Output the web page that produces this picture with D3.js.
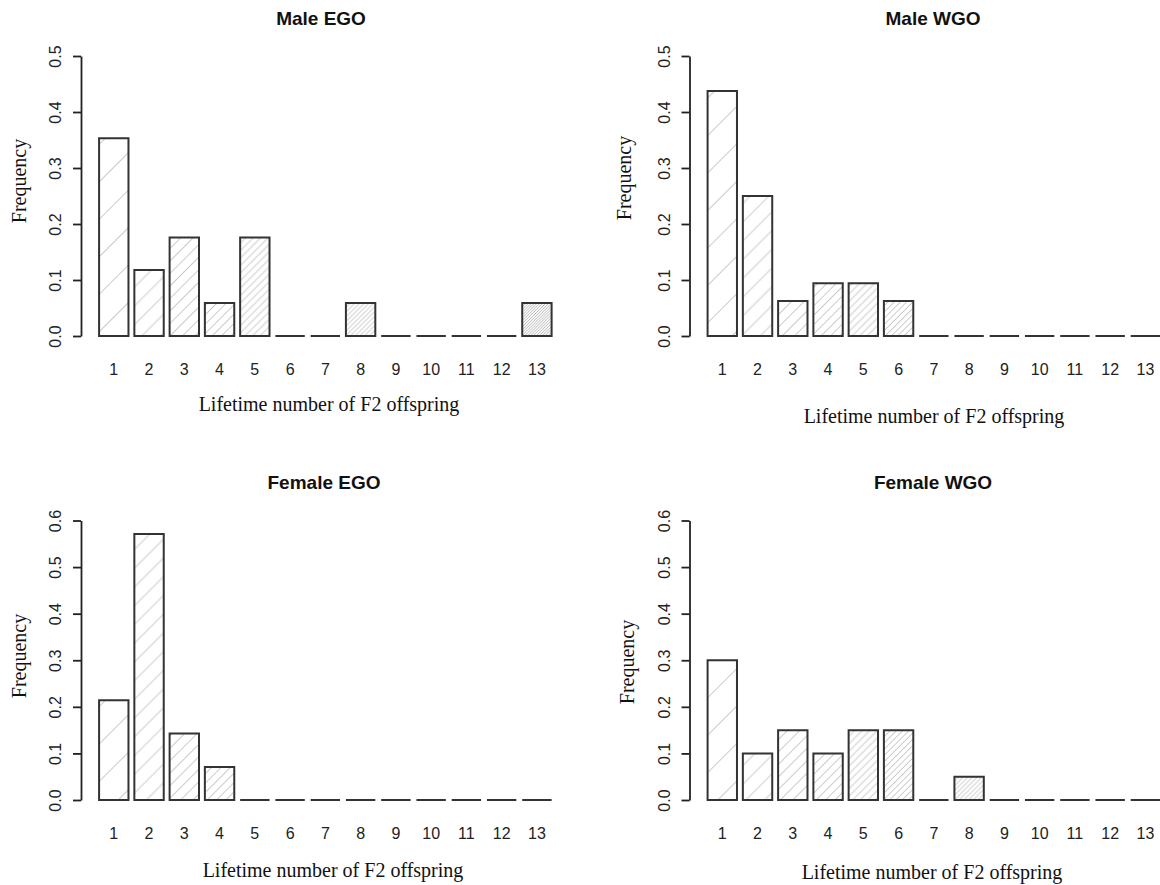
<!DOCTYPE html>
<html>
<head>
<meta charset="utf-8">
<script src="https://cdn.jsdelivr.net/npm/d3@7"></script>
<style>
  html, body { margin: 0; padding: 0; background: #fff; }
  svg { display: block; }
</style>
</head>
<body>
<svg id="chart" width="1160" height="885"></svg>
<script>
// Lifetime number of F2 offspring (bar categories)
const offspring = [1, 2, 3, 4, 5, 6, 7, 8, 9, 10, 11, 12, 13];

// Relative frequencies
const maleEGO   = [0.353, 0.118, 0.176, 0.059, 0.176, 0, 0, 0.059, 0, 0, 0, 0, 0.059];
const maleWGO   = [0.4375, 0.25, 0.0625, 0.094, 0.094, 0.0625, 0, 0, 0, 0, 0, 0, 0];
const femaleEGO = [0.214, 0.571, 0.143, 0.071, 0, 0, 0, 0, 0, 0, 0, 0, 0];
const femaleWGO = [0.30, 0.10, 0.15, 0.10, 0.15, 0.15, 0, 0.05, 0, 0, 0, 0, 0];

const titles = ["Male EGO", "Male WGO", "Female EGO", "Female WGO"];
const yTicksTop = [0, 0.1, 0.2, 0.3, 0.4, 0.5];
const yTicksBottom = [0, 0.1, 0.2, 0.3, 0.4, 0.5, 0.6];

const xLabel = "Lifetime number of F2 offspring";
const yLabel = "Frequency";

const sans = "'Liberation Sans', Arial, sans-serif";
const serif = "'Liberation Serif', 'Times New Roman', serif";

// panel layout (pixel frames only, no data)
const panels = [
  { title: titles[0], values: maleEGO, ticks: yTicksTop,
    left: 81, top: 56, bottom: 336, titleX: 321, titleY: 18,
    tickY: 369, xLabX: 329, xLabY: 405, yLabX: 20, yLabY: 181 },
  { title: titles[1], values: maleWGO, ticks: yTicksTop,
    left: 689.5, top: 56, bottom: 336, titleX: 933, titleY: 18,
    tickY: 369, xLabX: 934, xLabY: 417, yLabX: 625, yLabY: 178 },
  { title: titles[2], values: femaleEGO, ticks: yTicksBottom,
    left: 81, top: 520.5, bottom: 800, titleX: 324, titleY: 482,
    tickY: 833, xLabX: 333, xLabY: 871, yLabX: 20, yLabY: 656 },
  { title: titles[3], values: femaleWGO, ticks: yTicksBottom,
    left: 689.5, top: 520.5, bottom: 800, titleX: 933, titleY: 482,
    tickY: 833, xLabX: 932, xLabY: 873, yLabX: 628, yLabY: 662 }
];

const plotWidth = 488.7;
const hatchBase = 26.5; // perpendicular spacing of hatch lines for bar 1

const svg = d3.select("#chart");

// Hatch patterns: density grows with the bar index
const defs = svg.append("defs");
const pattern = defs.selectAll("pattern")
  .data(offspring)
  .join("pattern")
  .attr("id", d => `hatch-${d}`)
  .attr("patternUnits", "userSpaceOnUse")
  .attr("width", d => hatchBase / d)
  .attr("height", 20)
  .attr("patternTransform", "rotate(45)");
pattern.append("rect")
  .attr("width", d => hatchBase / d)
  .attr("height", 20)
  .attr("fill", "#fff");
pattern.append("line")
  .attr("x1", d => hatchBase / d / 2)
  .attr("x2", d => hatchBase / d / 2)
  .attr("y1", 0)
  .attr("y2", 20)
  .attr("stroke", "#bdbdbd")
  .attr("stroke-width", 0.8);

panels.forEach(p => {
  const g = svg.append("g");

  const x = d3.scaleBand()
    .domain(offspring)
    .range([p.left, p.left + plotWidth])
    .paddingInner(1 / 6)
    .paddingOuter(0.513);

  const y = d3.scaleLinear()
    .domain([0, d3.max(p.ticks)])
    .range([p.bottom, p.top]);

  // Bars (paths so that zero bars still show as a flat line)
  g.append("g")
    .selectAll("path")
    .data(p.values)
    .join("path")
    .attr("d", (d, i) => {
      const x0 = x(offspring[i]), x1 = x0 + x.bandwidth();
      return `M${x0},${y(0)}H${x1}V${y(d)}H${x0}Z`;
    })
    .attr("fill", (d, i) => `url(#hatch-${offspring[i]})`)
    .attr("stroke", "#333")
    .attr("stroke-width", 2);

  // Y axis
  const yAxis = g.append("g")
    .attr("transform", `translate(${p.left},0)`)
    .call(d3.axisLeft(y).tickValues(p.ticks).tickSize(8).tickSizeOuter(0).tickFormat(d3.format(".1f")));
  yAxis.select(".domain").attr("stroke", "#222").attr("stroke-width", 1.8);
  yAxis.selectAll(".tick line").attr("stroke", "#222").attr("stroke-width", 1.8);
  yAxis.selectAll(".tick text")
    .attr("transform", "rotate(-90)")
    .attr("text-anchor", "middle")
    .attr("x", 0)
    .attr("y", -25.5)
    .attr("dy", "0.36em")
    .attr("fill", "#222")
    .style("font-family", sans)
    .style("font-size", "16px");

  // Category labels under the bars
  g.append("g")
    .selectAll("text")
    .data(offspring)
    .join("text")
    .attr("x", d => x(d) + x.bandwidth() / 2)
    .attr("y", p.tickY)
    .attr("dy", "0.36em")
    .attr("text-anchor", "middle")
    .attr("fill", "#222")
    .style("font-family", sans)
    .style("font-size", "16px")
    .text(d => d);

  // Title
  g.append("text")
    .attr("x", p.titleX)
    .attr("y", p.titleY)
    .attr("dy", "0.36em")
    .attr("text-anchor", "middle")
    .attr("fill", "#111")
    .style("font-family", sans)
    .style("font-weight", "bold")
    .style("font-size", "19px")
    .text(p.title);

  // Axis titles
  g.append("text")
    .attr("x", p.xLabX)
    .attr("y", p.xLabY)
    .attr("dy", "0.3em")
    .attr("text-anchor", "middle")
    .attr("fill", "#111")
    .style("font-family", serif)
    .style("font-size", "20px")
    .text(xLabel);

  g.append("text")
    .attr("transform", `translate(${p.yLabX},${p.yLabY}) rotate(-90)`)
    .attr("dy", "0.3em")
    .attr("text-anchor", "middle")
    .attr("fill", "#111")
    .style("font-family", serif)
    .style("font-size", "20px")
    .text(yLabel);
});
</script>
</body>
</html>
